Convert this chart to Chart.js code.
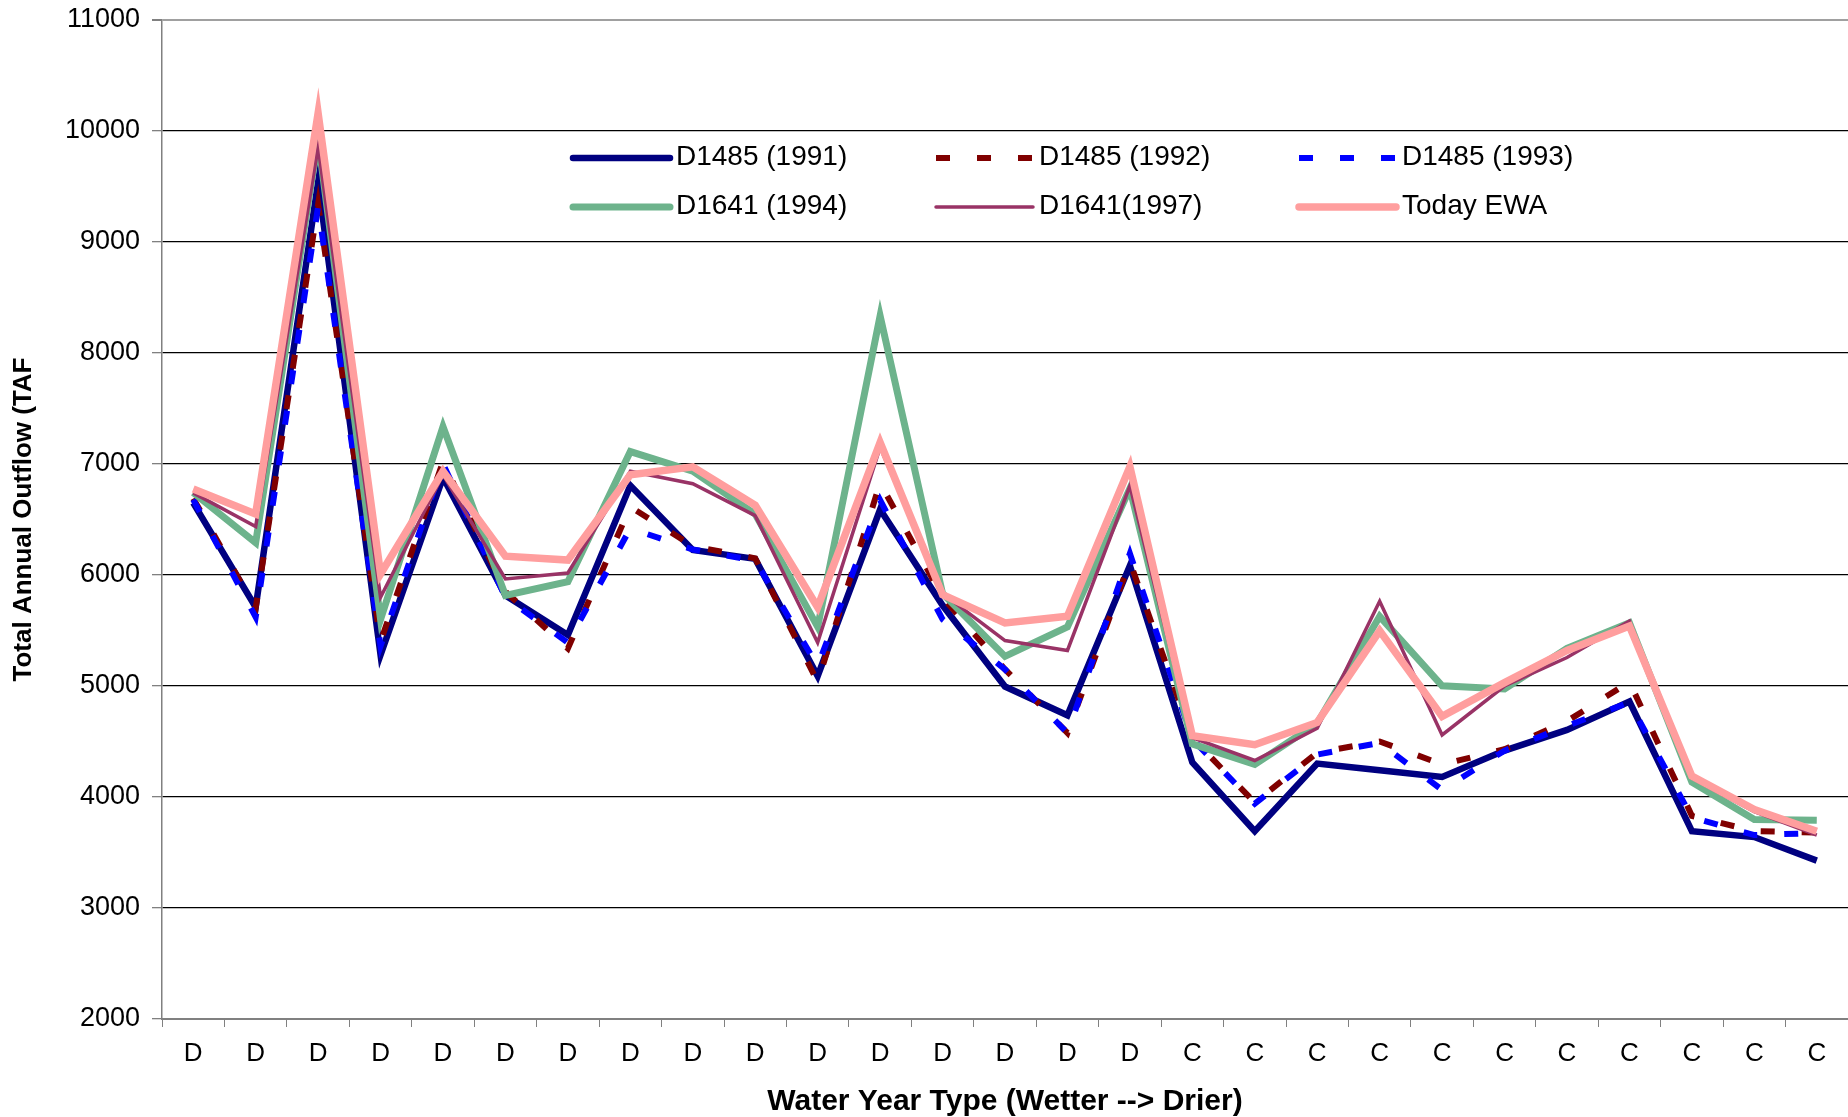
<!DOCTYPE html>
<html>
<head>
<meta charset="utf-8">
<title>Total Annual Outflow</title>
<script src="https://cdn.jsdelivr.net/npm/chart.js@4.4.1/dist/chart.umd.min.js"></script>
<style>
  html, body { margin: 0; padding: 0; background: #fff; }
  #wrap { width: 1848px; height: 1117px; }
</style>
</head>
<body>
<div id="wrap"><canvas id="outflowChart"></canvas></div>
<script>
// Water year types, wetter to drier
const yearTypes = ['D', 'D', 'D', 'D', 'D', 'D', 'D', 'D', 'D', 'D', 'D', 'D', 'D', 'D', 'D', 'D',
  'C', 'C', 'C', 'C', 'C', 'C', 'C', 'C', 'C', 'C', 'C'];

// Total annual outflow (TAF)
const d1485_1991 = [6650, 5710, 9540, 5280, 6880, 5816, 5460, 6806, 6225, 6145, 5090, 6590, 5727, 4995, 4736, 6085,
  4312, 3692, 4301, 4241, 4180, 4418, 4605, 4860, 3692, 3639, 3427];
const d1485_1992 = [6690, 5700, 9340, 5400, 7020, 5850, 5338, 6614, 6260, 6150, 5037, 6830, 5800, 5150, 4577, 6120,
  4530, 3950, 4400, 4500, 4294, 4430, 4683, 5037, 3830, 3692, 3680];
const d1485_1993 = [6680, 5620, 9320, 5360, 7000, 5800, 5390, 6420, 6230, 6130, 5180, 6675, 5600, 5150, 4577, 6194,
  4520, 3940, 4382, 4488, 4064, 4418, 4640, 4853, 3816, 3657, 3675];
const d1641_1994 = [6742, 6291, 9930, 5600, 7337, 5816, 5940, 7112, 6935, 6549, 5533, 8335, 5834, 5267, 5533, 6780,
  4478, 4294, 4665, 5628, 5002, 4973, 5338, 5568, 4135, 3798, 3791];
const d1641_1997 = [6740, 6436, 9857, 5800, 6903, 5965, 6018, 6935, 6822, 6535, 5391, 7150, 5834, 5409, 5320, 6803,
  4535, 4329, 4620, 5763, 4559, 5000, 5257, 5586, 4170, 3869, 3657];
const todayEwa = [6774, 6550, 10160, 6010, 6935, 6170, 6135, 6903, 6975, 6629, 5710, 7194, 5823, 5568, 5628, 6975,
  4552, 4471, 4672, 5497, 4726, 5030, 5320, 5540, 4188, 3887, 3692];

const yTicks = [2000, 3000, 4000, 5000, 6000, 7000, 8000, 9000, 10000, 11000];

const FONT = "'Liberation Sans', Arial, sans-serif";

// legend drawn in three columns inside the plot, like the original
const gridLegend = {
  id: 'gridLegend',
  afterDatasetsDraw(chart) {
    const ctx = chart.ctx;
    const cols = [573, 936, 1299];
    const rows = [158, 207];
    const sampleLen = 97;
    chart.data.datasets.forEach((ds, i) => {
      const x = cols[i % 3];
      const y = rows[Math.floor(i / 3)];
      ctx.save();
      ctx.strokeStyle = ds.borderColor;
      ctx.lineWidth = ds.borderWidth;
      ctx.setLineDash(ds.borderDash || []);
      ctx.lineCap = ds.borderDash ? 'butt' : 'round';
      ctx.beginPath();
      ctx.moveTo(x, y);
      ctx.lineTo(x + sampleLen, y);
      ctx.stroke();
      ctx.setLineDash([]);
      ctx.fillStyle = '#000';
      ctx.font = `28px ${FONT}`;
      ctx.textBaseline = 'middle';
      ctx.textAlign = 'left';
      ctx.fillText(ds.label, x + sampleLen + 6, y - 1);
      ctx.restore();
    });
  }
};

const gridColor = (c) => {
  const v = c.tick && c.tick.value;
  if (v === 11000) return '#a0a0a0';
  if (v === 2000) return '#808080';
  return '#000';
};

new Chart(document.getElementById('outflowChart'), {
  type: 'line',
  data: {
    labels: yearTypes,
    datasets: [
      { label: 'D1485 (1991)', data: d1485_1991, borderColor: '#000080', borderWidth: 6.5, order: 5 },
      { label: 'D1485 (1992)', data: d1485_1992, borderColor: '#800000', borderWidth: 6, borderDash: [14, 27], order: 4 },
      { label: 'D1485 (1993)', data: d1485_1993, borderColor: '#0000ff', borderWidth: 6, borderDash: [14, 27], order: 3 },
      { label: 'D1641 (1994)', data: d1641_1994, borderColor: '#6db38c', borderWidth: 7, order: 2 },
      { label: 'D1641(1997)', data: d1641_1997, borderColor: '#993366', borderWidth: 3.5, order: 1 },
      { label: 'Today EWA', data: todayEwa, borderColor: '#ff9e9e', borderWidth: 7.5, order: 0 }
    ]
  },
  options: {
    responsive: true,
    maintainAspectRatio: false,
    animation: false,
    layout: { padding: { top: 20, right: 0, bottom: 0, left: 0 } },
    elements: {
      point: { radius: 0, hoverRadius: 0 },
      line: { tension: 0, fill: false, borderJoinStyle: 'miter' }
    },
    plugins: {
      legend: { display: false },
      tooltip: { enabled: false }
    },
    scales: {
      x: {
        offset: true,
        grid: { offset: true, drawOnChartArea: false, drawTicks: true, tickLength: 8, tickColor: '#808080' },
        border: { color: '#808080', width: 2 },
        ticks: { color: '#000', padding: 11, font: { family: FONT, size: 26 }, maxRotation: 0, autoSkip: false },
        title: {
          display: true,
          text: 'Water Year Type (Wetter --> Drier)',
          color: '#000',
          font: { family: FONT, size: 30, weight: 'bold', lineHeight: 1 },
          padding: { top: 0, bottom: 0 }
        },
        afterFit(scale) { scale.height = 98; }
      },
      y: {
        min: 2000,
        max: 11000,
        afterBuildTicks(scale) { scale.ticks = yTicks.map((v) => ({ value: v })); },
        grid: { color: gridColor, lineWidth: (c) => (c.tick && c.tick.value === 11000 ? 2 : 1.3), tickLength: 10, tickColor: '#808080' },
        border: { color: '#808080', width: 1.5 },
        ticks: { color: '#000', padding: 12, font: { family: FONT, size: 27 }, callback: (v) => String(v) },
        title: {
          display: true,
          text: 'Total Annual Outflow (TAF',
          color: '#000',
          font: { family: FONT, size: 26, weight: 'bold' },
          padding: { top: 8, bottom: 0 }
        },
        afterFit(scale) {
          scale.width = 162;
          scale.paddingTop = 0;
          scale.paddingBottom = 0;
        }
      }
    }
  },
  plugins: [gridLegend]
});
</script>
</body>
</html>
